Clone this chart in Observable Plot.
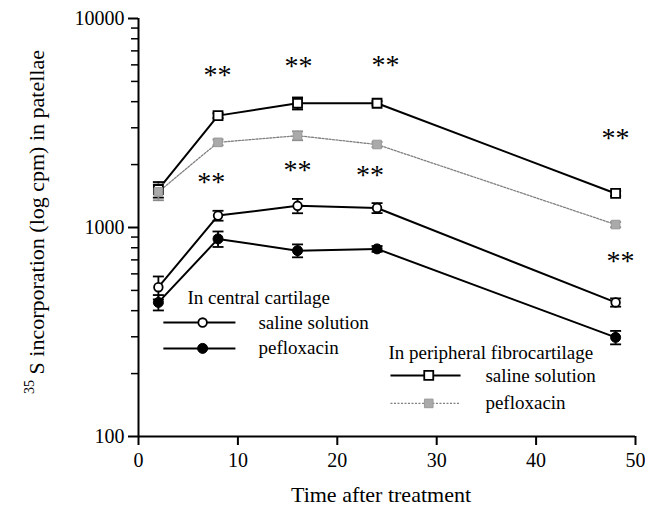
<!DOCTYPE html>
<html><head><meta charset="utf-8">
<script src="https://cdn.jsdelivr.net/npm/d3@7"></script>
<script src="https://cdn.jsdelivr.net/npm/@observablehq/plot@0.6"></script>
<style>body{margin:0;background:#fff} #chart svg{font-family:"Liberation Serif",serif;}</style>
</head><body><div id="chart"></div>
<script>
// ---- data ----
const times = [2, 8, 16, 24, 48];
const centralSaline = [518, 1140, 1270, 1240, 438];
const centralSalineErr = [65, 62, 100, 68, 20];
const centralPef = [438, 882, 775, 790, 298];
const centralPefErr = [37, 75, 55, 25, 22];
const periphSaline = [1520, 3430, 3930, 3930, 1455];
const periphSalineErr = [130, 90, 260, 90, 40];
const periphPef = [1480, 2555, 2750, 2495, 1033];
const periphPefErr = [130, 80, 135, 70, 30];
const starX = [7.95, 16.1, 24.85, 48.0, 7.31, 16.0, 23.3, 48.5];
const starY = [5580, 6160, 6290, 2790, 1720, 1960, 1870, 726];
const starText = "**";
const xTicks = [0, 10, 20, 30, 40, 50];
const yTicks = [100, 1000, 10000];
const yMinorTicks = [200,300,400,500,600,700,800,900,2000,3000,4000,5000,6000,7000,8000,9000];
const seriesNames = ["centralSaline", "centralPef", "periphSaline", "periphPef"];
const legendGroups = ["In central cartilage", "In peripheral fibrocartilage"];
const legendLabels = ["saline solution", "pefloxacin"];
const xLabel = "Time after treatment";
const yLabelSup = "35";
const yLabelMain = " S incorporation (log cpm) in patellae";

// ---- build table ----
const vals = {centralSaline, centralPef, periphSaline, periphPef};
const errs = {centralSaline: centralSalineErr, centralPef: centralPefErr, periphSaline: periphSalineErr, periphPef: periphPefErr};
const rows = [];
for (const s of seriesNames) times.forEach((t, i) => rows.push({s, t, v: vals[s][i], e: errs[s][i]}));
const stars = starX.map((x, i) => ({x, y: starY[i], text: starText}));

// ---- styles ----
const capSym = {draw(ctx, size) { const r = Math.sqrt(size / Math.PI); ctx.moveTo(-r, 0); ctx.lineTo(r, 0); }};
const sqSym = {draw(ctx, size) { const r = Math.sqrt(size / Math.PI); ctx.rect(-r, -r, 2 * r, 2 * r); }};
const lineStyle = {
  centralSaline: {stroke: "#000", strokeWidth: 2},
  centralPef: {stroke: "#000", strokeWidth: 2},
  periphSaline: {stroke: "#000", strokeWidth: 2},
  periphPef: {stroke: "#808080", strokeWidth: 1.3, strokeDasharray: "2,1.5"}
};
const markStyle = {
  centralSaline: {symbol: "circle", r: 4.3, fill: "#fff", stroke: "#000", strokeWidth: 1.8},
  centralPef: {symbol: "circle", r: 5, fill: "#000", stroke: "#000", strokeWidth: 1},
  periphSaline: {symbol: sqSym, r: 4.5, fill: "#fff", stroke: "#000", strokeWidth: 1.8},
  periphPef: {symbol: sqSym, r: 4.3, fill: "#aaa", stroke: "#999", strokeWidth: 1}
};
const errColor = {centralSaline: "#000", centralPef: "#000", periphSaline: "#000", periphPef: "#888"};

// legend layout (data coordinates)
const legendLayout = [
  {titleX: 4.93, titleY: 462, rowY: [351, 264], lineX: [2.5, 9.75], markX: 6.45, textX: 12.07, series: ["centralSaline", "centralPef"]},
  {titleX: 25.15, titleY: 252, rowY: [196, 144], lineX: [25.35, 32.4], markX: 29.2, textX: 34.9, series: ["periphSaline", "periphPef"]}
];

const marks = [];
for (const s of seriesNames) {
  const d = rows.filter(r => r.s === s);
  marks.push(Plot.line(d, {x: "t", y: "v", ...lineStyle[s]}));
  marks.push(Plot.ruleX(d, {x: "t", y1: r => r.v - r.e, y2: r => r.v + r.e, stroke: errColor[s], strokeWidth: 1.8}));
  marks.push(Plot.dot(d, {x: "t", y: r => r.v + r.e, symbol: capSym, r: 5.5, stroke: errColor[s], strokeWidth: 1.8}));
  marks.push(Plot.dot(d, {x: "t", y: r => r.v - r.e, symbol: capSym, r: 5.5, stroke: errColor[s], strokeWidth: 1.8}));
}
for (const s of seriesNames) {
  const d = rows.filter(r => r.s === s);
  marks.push(Plot.dot(d, {x: "t", y: "v", ...markStyle[s]}));
}
// asterisks
marks.push(Plot.text(stars, {x: "x", y: "y", text: "text", fontSize: 28, dy: 4, fill: "#000"}));
// legend
legendLayout.forEach((L, gi) => {
  marks.push(Plot.text([legendGroups[gi]], {x: L.titleX, y: L.titleY, text: d => d, textAnchor: "start", fontSize: 19, fill: "#000"}));
  L.series.forEach((s, ri) => {
    marks.push(Plot.link([s], {x1: L.lineX[0], x2: L.lineX[1], y1: L.rowY[ri], y2: L.rowY[ri], ...lineStyle[s]}));
    marks.push(Plot.dot([s], {x: L.markX, y: L.rowY[ri], ...markStyle[s]}));
    marks.push(Plot.text([legendLabels[ri]], {x: L.textX, y: L.rowY[ri], text: d => d, textAnchor: "start", fontSize: 19, fill: "#000"}));
  });
});
// axes
marks.push(Plot.axisY({ticks: yMinorTicks, tickSize: 7, tickFormat: () => "", strokeWidth: 1.5, label: null}));
marks.push(Plot.axisY({ticks: yTicks, tickSize: 10, tickPadding: 4, tickFormat: d => String(d), fontSize: 20, strokeWidth: 2, label: null}));
marks.push(Plot.axisX({ticks: xTicks, tickSize: 9, tickPadding: 7, tickFormat: d => String(d), fontSize: 20, strokeWidth: 2, label: null}));
marks.push(Plot.ruleX([0], {stroke: "#000", strokeWidth: 2}));
marks.push(Plot.ruleY([100], {stroke: "#000", strokeWidth: 2}));
marks.push(Plot.text([xLabel], {frameAnchor: "bottom", text: d => d, dy: 65, dx: -6, fontSize: 22, fill: "#000"}));

const chart = Plot.plot({
  width: 645, height: 506,
  marginLeft: 138, marginRight: 10, marginTop: 18, marginBottom: 70,
  x: {domain: [0, 50]},
  y: {type: "log", domain: [100, 10000]},
  style: {fontFamily: "Liberation Serif", color: "#000", background: "#fff"},
  marks
});
document.getElementById("chart").appendChild(chart);

// y-axis title with superscript
const svg = d3.select(chart);
const t = svg.append("text")
  .attr("transform", "translate(36,222) rotate(-90)")
  .attr("text-anchor", "middle")
  .attr("dominant-baseline", "central")
  .attr("font-family", "Liberation Serif")
  .attr("font-size", 22)
  .attr("fill", "#000");
t.append("tspan").attr("font-size", 14).attr("dy", "-0.5em").text(yLabelSup);
t.append("tspan").attr("dy", "0.32em").text(yLabelMain);
</script>
</body></html>
